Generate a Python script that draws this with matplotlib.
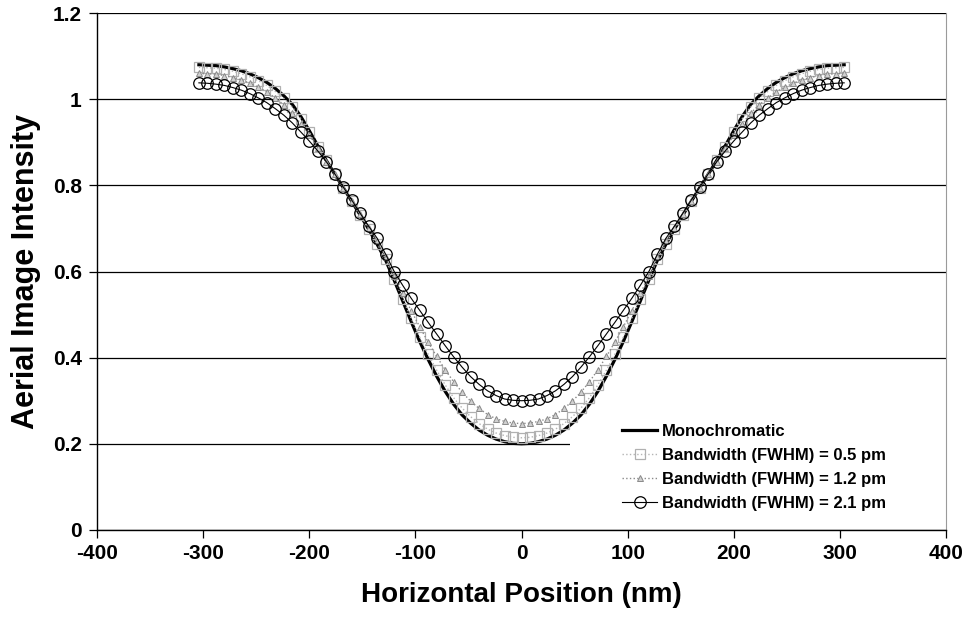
import numpy as np
import matplotlib
matplotlib.use("Agg")
from matplotlib import pyplot as plt
from matplotlib.patches import Rectangle

plt.rcParams['font.family'] = ['Liberation Sans', 'DejaVu Sans']
plt.rcParams['font.weight'] = 'bold'
plt.rcParams['axes.unicode_minus'] = False

# half profile, x = 0 .. 304 nm (step 8), the image is symmetric about 0
x_half = [0, 8, 16, 24, 32, 40, 48, 56, 64, 72, 80, 88, 96, 104, 112, 120, 128,
          136, 144, 152, 160, 168, 176, 184, 192, 200, 208, 216, 224, 232, 240,
          248, 256, 264, 272, 280, 288, 296, 304]

mono_half = [0.200, 0.201, 0.205, 0.211, 0.220, 0.232, 0.248, 0.267, 0.292,
             0.322, 0.357, 0.396, 0.438, 0.484, 0.532, 0.580, 0.626, 0.663,
             0.698, 0.731, 0.763, 0.795, 0.826, 0.858, 0.892, 0.927, 0.960,
             0.988, 1.008, 1.025, 1.039, 1.050, 1.059, 1.066, 1.071, 1.075,
             1.078, 1.079, 1.080]

bw05_half = [0.214, 0.215, 0.219, 0.225, 0.234, 0.247, 0.263, 0.283, 0.307,
             0.337, 0.371, 0.408, 0.448, 0.492, 0.537, 0.583, 0.628, 0.665,
             0.699, 0.732, 0.763, 0.795, 0.826, 0.858, 0.890, 0.924, 0.955,
             0.982, 1.002, 1.018, 1.032, 1.043, 1.052, 1.059, 1.065, 1.069,
             1.072, 1.073, 1.074]

bw12_half = [0.247, 0.248, 0.252, 0.258, 0.268, 0.282, 0.299, 0.320, 0.344,
             0.372, 0.403, 0.436, 0.472, 0.509, 0.549, 0.589, 0.633, 0.670,
             0.701, 0.733, 0.764, 0.795, 0.826, 0.855, 0.887, 0.916, 0.943,
             0.968, 0.987, 1.003, 1.017, 1.028, 1.037, 1.045, 1.050, 1.055,
             1.058, 1.059, 1.060]

bw21_half = [0.300, 0.301, 0.304, 0.312, 0.323, 0.338, 0.356, 0.378, 0.402,
             0.428, 0.455, 0.482, 0.510, 0.538, 0.568, 0.600, 0.640, 0.677,
             0.705, 0.735, 0.766, 0.796, 0.827, 0.855, 0.880, 0.903, 0.924,
             0.945, 0.963, 0.978, 0.992, 1.003, 1.013, 1.021, 1.027, 1.032,
             1.035, 1.037, 1.038]

labels = ['Monochromatic', 'Bandwidth (FWHM) = 0.5 pm',
          'Bandwidth (FWHM) = 1.2 pm', 'Bandwidth (FWHM) = 2.1 pm']


def mirror(h):
    h = np.asarray(h, dtype=float)
    return np.concatenate([h[:0:-1], h])


x = np.concatenate([-np.asarray(x_half[:0:-1]), x_half])

fig = plt.figure(figsize=(9.72, 6.22), dpi=100)
ax = fig.add_axes([0.0998, 0.148, 0.8735, 0.831])

ax.plot(x, mirror(mono_half), color='black', lw=2.3, label=labels[0], zorder=3)
ax.plot(x, mirror(bw05_half), color='#b5b5b5', lw=1.0, ls=':', marker='s',
        ms=6.5, mfc='none', mec='#b0b0b0', mew=0.9, label=labels[1], zorder=4)
ax.plot(x, mirror(bw12_half), color='#8a8a8a', lw=1.0, ls=':', marker='^',
        ms=5, mfc='#d0d0d0', mec='#8a8a8a', mew=0.7, label=labels[2], zorder=5)
ax.plot(x, mirror(bw21_half), color='black', lw=0.8, marker='o', ms=8.3,
        mfc='none', mec='black', mew=0.9, label=labels[3], zorder=6)

ax.set_xlim(-400, 400)
ax.set_ylim(0, 1.2)
ax.set_xticks(np.arange(-400, 401, 100))
ax.set_yticks([0, 0.2, 0.4, 0.6, 0.8, 1.0, 1.2])
ax.set_yticklabels(['0', '0.2', '0.4', '0.6', '0.8', '1', '1.2'])
ax.yaxis.grid(True, color='black', lw=0.9)
ax.set_axisbelow(True)

for s in ['left', 'bottom']:
    ax.spines[s].set_color('black')
    ax.spines[s].set_linewidth(1.0)
ax.spines['top'].set_visible(False)
ax.spines['right'].set_color('#9a9a9a')
ax.tick_params(axis='both', labelsize=15, length=6, width=0.9, direction='out')
ax.tick_params(axis='x', pad=4)
ax.tick_params(axis='y', pad=5)

ax.set_xlabel('Horizontal Position (nm)', fontsize=20, fontweight='bold', labelpad=14)
ax.set_ylabel('Aerial Image Intensity', fontsize=22, fontweight='bold', labelpad=8)

# white legend area that hides the grid line behind it
ax.add_patch(Rectangle((0.557, 0.012), 0.443, 0.19, transform=ax.transAxes,
                       facecolor='white', edgecolor='none', zorder=1))
leg = ax.legend(loc='upper left', bbox_to_anchor=(0.605, 0.228), frameon=False,
                fontsize=12, handlelength=2.1, handletextpad=0.3,
                labelspacing=0.55, borderpad=0.2)

fig.savefig('out.png', dpi=100)
